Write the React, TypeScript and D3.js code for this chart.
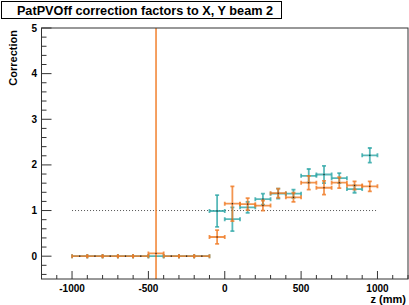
import React from "react";
import * as d3 from "d3";

const W = 409;
const H = 305;

// bin centers (mm), half-widths 50
const zNeg = [-950, -850, -750, -650, -550, -450, -350, -250, -150];
const zPos = [-50, 50, 150, 250, 350, 450, 550, 650, 750, 850, 950];

// orange series
const orangeNegVal = [0, 0, 0, 0, 0, 0.06, 0, 0, 0];
const orangeNegErr = [0, 0, 0, 0, 0, 20, 0, 0, 0];
const orangePosVal = [0.42, 1.15, 1.14, 1.11, 1.38, 1.29, 1.61, 1.5, 1.61, 1.55, 1.53];
const orangePosErr = [0.15, 0.38, 0.13, 0.11, 0.1, 0.1, 0.15, 0.15, 0.12, 0.09, 0.11];

// teal series
const tealNegVal = [0, 0, 0, 0, 0, 0, 0, 0, 0];
const tealNegErr = [0, 0, 0, 0, 0, 0, 0, 0, 0];
const tealPosVal = [0.99, 0.81, 1.07, 1.25, 1.37, 1.37, 1.76, 1.79, 1.71, 1.47, 2.21];
const tealPosErr = [0.35, 0.26, 0.12, 0.12, 0.11, 0.09, 0.15, 0.19, 0.11, 0.08, 0.16];

const binHalf = 50;
const yTicks = [0, 1, 2, 3, 4, 5];
const xTicks = [-1000, -500, 0, 500, 1000];
const refLine = 1;

const title = "PatPVOff correction factors to X, Y beam 2";
const xTitle = "z (mm)";
const yTitle = "Correction";

const ORANGE = "#f07a24";
const TEAL = "#30a8a8";

const L = 41.5, R = 408, T = 28, B = 279;

export default function App() {
  const x = d3.scaleLinear().domain([-1200, 1200]).range([L, R]);
  const y = d3.scaleLinear().domain([-0.5, 5]).range([B, T]);
  const font = "'Liberation Sans', Arial, Helvetica, sans-serif";

  const xMinor = d3.range(-1200, 1201, 100);
  const yMinor = d3.range(-0.4, 5.001, 0.2);

  const series = (zs: number[], vals: number[], errs: number[], color: string, key: string) =>
    zs.map((z, i) => {
      const cx = x(z), cy = y(vals[i]);
      const x0 = x(z - binHalf), x1 = x(z + binHalf);
      const e = errs[i];
      const y0 = y(vals[i] - e), y1 = y(vals[i] + e);
      return (
        <g key={key + i} stroke={color} strokeWidth={1.8} strokeOpacity={0.8}>
          <line x1={x0} x2={x1} y1={cy} y2={cy} />
          <line x1={x0} x2={x0} y1={cy - 2} y2={cy + 2} />
          <line x1={x1} x2={x1} y1={cy - 2} y2={cy + 2} />
          {e > 0 && <line x1={cx} x2={cx} y1={y0} y2={y1} />}
          {e > 0 && <line x1={cx - 2} x2={cx + 2} y1={y0} y2={y0} />}
          {e > 0 && <line x1={cx - 2} x2={cx + 2} y1={y1} y2={y1} />}
          <rect x={cx - 0.6} y={cy - 0.6} width={1.2} height={1.2} fill="#222" stroke="none" />
        </g>
      );
    });

  return (
    <svg width={W} height={H} style={{ position: "absolute", left: 0, top: 0, background: "#fff" }} fontFamily={font}>
      <defs>
        <clipPath id="plotclip">
          <rect x={L} y={T} width={R - L} height={B - T} />
        </clipPath>
      </defs>
      {/* title box */}
      <rect x={1.5} y={1.5} width={280} height={17} fill="#fff" stroke="#000" strokeWidth={1} />
      <text x={145} y={14.5} textAnchor="middle" fontSize={12.7} fontWeight="bold">{title}</text>

      {/* reference line */}
      <line x1={x(-1000)} x2={x(1000)} y1={y(refLine)} y2={y(refLine)} stroke="#555" strokeWidth={1} strokeDasharray="1,2" />

      <g clipPath="url(#plotclip)">
        {series(zNeg, tealNegVal, tealNegErr, TEAL, "tn")}
        {series(zPos, tealPosVal, tealPosErr, TEAL, "tp")}
        {series(zNeg, orangeNegVal, orangeNegErr, ORANGE, "on")}
        {series(zPos, orangePosVal, orangePosErr, ORANGE, "op")}
      </g>

      {/* frame */}
      <rect x={L} y={T} width={R - L} height={B - T} fill="none" stroke="#333" strokeWidth={1} />

      {/* x axis ticks */}
      {xMinor.map((v) => (
        <line key={"xm" + v} x1={x(v)} x2={x(v)} y1={B} y2={B - (v % 500 === 0 ? 8 : 4)} stroke="#333" strokeWidth={1} />
      ))}
      {xTicks.map((v) => (
        <text key={"xl" + v} x={x(v)} y={292} textAnchor="middle" fontSize={10} fontWeight="bold">{v}</text>
      ))}
      <text x={406} y={303} textAnchor="end" fontSize={11} fontWeight="bold">{xTitle}</text>

      {/* y axis ticks */}
      {yMinor.map((v) => {
        const major = Math.abs(v - Math.round(v)) < 1e-6;
        return <line key={"ym" + v.toFixed(1)} x1={L} x2={L + (major ? 10 : 5)} y1={y(v)} y2={y(v)} stroke="#333" strokeWidth={1} />;
      })}
      {yTicks.map((v) => (
        <text key={"yl" + v} x={37} y={y(v) + 3.5} textAnchor="end" fontSize={10} fontWeight="bold">{v}</text>
      ))}
      <text transform={`translate(17, ${T + 2}) rotate(-90)`} textAnchor="end" fontSize={11} fontWeight="bold">{yTitle}</text>
    </svg>
  );
}
